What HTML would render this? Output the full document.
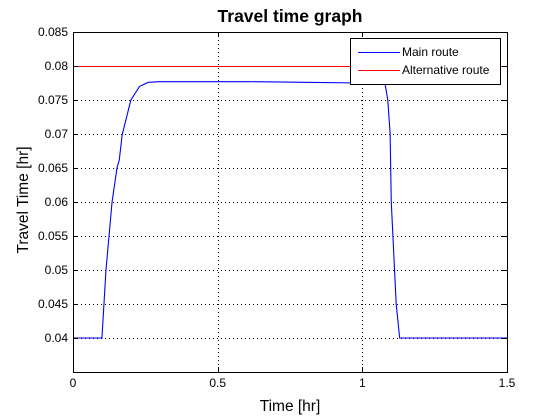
<!DOCTYPE html>
<html><head><meta charset="utf-8"><style>
body{margin:0;background:#fff;}
svg{display:block;font-family:"Liberation Sans",sans-serif;}
</style></head><body>
<svg id="chart" width="560" height="420" viewBox="0 0 560 420">
<rect x="0" y="0" width="560" height="420" fill="#fff"/>
<text x="290" y="22" text-anchor="middle" font-size="17.5" font-weight="bold">Travel time graph</text>
<g id="grid" shape-rendering="crispEdges"></g><g id="series"></g><g id="axes" shape-rendering="crispEdges"></g>
<text x="290" y="411" text-anchor="middle" font-size="15.5">Time [hr]</text>
<text transform="translate(28,200) rotate(-90)" text-anchor="middle" font-size="15.5">Travel Time [hr]</text>
<g shape-rendering="crispEdges">
<rect x="350.5" y="38.5" width="150" height="46" fill="#fff" stroke="#000" stroke-width="1"/>
<line x1="358" y1="52.5" x2="400" y2="52.5" stroke="#0000ff"/>
<text x="402" y="56" font-size="12">Main route</text>
<line x1="358" y1="70.5" x2="400" y2="70.5" stroke="#ff0000"/>
<text x="402" y="74" font-size="12">Alternative route</text>
</g>
</svg>
<script>
const xTicks=[0,0.5,1,1.5];
const xTickLabels=["0","0.5","1","1.5"];
const yTicks=[0.04,0.045,0.05,0.055,0.06,0.065,0.07,0.075,0.08,0.085];
const yTickLabels=["0.04","0.045","0.05","0.055","0.06","0.065","0.07","0.075","0.08","0.085"];
const mainT=[0,0.1,0.114,0.135,0.152,0.16,0.17,0.2,0.23,0.26,0.3,0.4,0.6,0.8,1.0,1.078,1.088,1.096,1.1,1.117,1.129,1.5];
const mainV=[0.04,0.04,0.05,0.06,0.065,0.0662,0.0699,0.075,0.0770,0.0776,0.0777,0.0777,0.0777,0.0776,0.0775,0.0775,0.075,0.0701,0.06,0.045,0.04,0.04];
const altT=[0,1.5];
const altV=[0.08,0.08];
const L=73,R=507,T=32,B=372,xmin=0,xmax=1.5,ymin=0.035,ymax=0.085;
const sx=v=>L+(v-xmin)/(xmax-xmin)*(R-L);
const sy=v=>B-(v-ymin)/(ymax-ymin)*(B-T);
const NS="http://www.w3.org/2000/svg";
function mk(tag,attrs,parent){const e=document.createElementNS(NS,tag);for(const k in attrs)e.setAttribute(k,attrs[k]);parent.appendChild(e);return e;}
const grid=document.getElementById('grid'),axes=document.getElementById('axes'),series=document.getElementById('series');
xTicks.forEach((t,i)=>{
 const X=Math.round(sx(t))+0.5;
 if(t>xmin&&t<xmax){const g=mk('line',{x1:X,x2:X,y1:T,y2:B,stroke:'#000','stroke-dasharray':'1,3'},grid);
 
 }
 const tk=mk('line',{x1:X,x2:X,y1:B,y2:B-5,stroke:'#000'},axes);
 
 
 const tk2=mk('line',{x1:X,x2:X,y1:T,y2:T+5,stroke:'#000'},axes);
 
 
 const lb=mk('text',{x:sx(t),y:B+15,'text-anchor':'middle','font-size':'12'},axes);lb.textContent=xTickLabels[i];
 
 
});
yTicks.forEach((t,i)=>{
 const Y=Math.round(sy(t))+0.5;
 if(t>ymin&&t<ymax){const g=mk('line',{x1:L,x2:R,y1:Y,y2:Y,stroke:'#000','stroke-dasharray':'1,3'},grid);
 
 }
 const tk=mk('line',{x1:L,x2:L+5,y1:Y,y2:Y,stroke:'#000'},axes);
 
 
 const tk2=mk('line',{x1:R,x2:R-5,y1:Y,y2:Y,stroke:'#000'},axes);
 
 
 const lb=mk('text',{x:L-5,y:sy(t)+4,'text-anchor':'end','font-size':'12'},axes);lb.textContent=yTickLabels[i];
 
 
});
const box=mk('rect',{x:L+0.5,y:T+0.5,width:R-L,height:B-T,fill:'none',stroke:'#000'},axes);


const alt=mk('polyline',{points:altT.map((t,i)=>sx(t)+','+(Math.round(sy(altV[i]))+0.5)).join(' '),fill:'none',stroke:'#ff0000','stroke-width':'1'},series);


const main=mk('polyline',{points:mainT.map((t,i)=>sx(t)+','+sy(mainV[i])).join(' '),fill:'none',stroke:'#0000ff','stroke-width':'1.1'},series);


</script>
</body></html>
